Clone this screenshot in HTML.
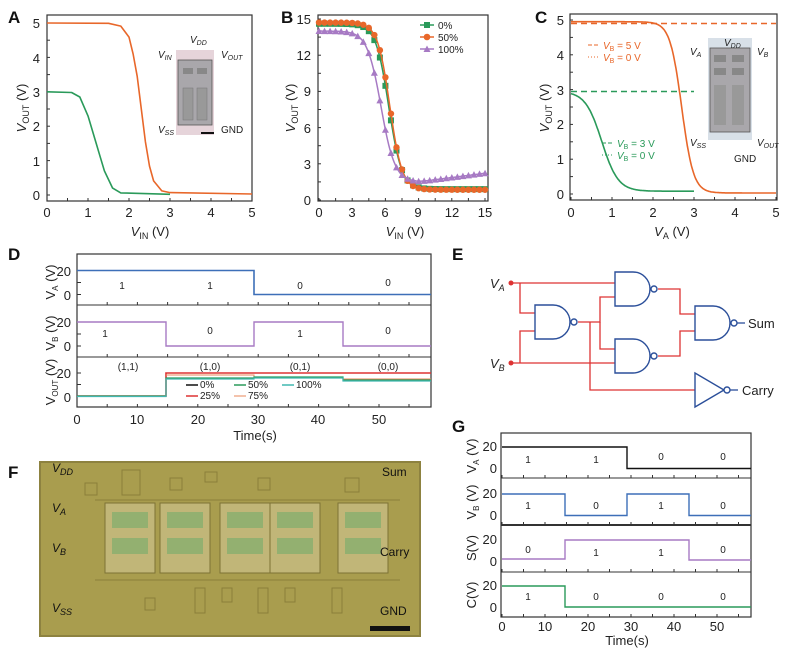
<!DOCTYPE html>
<html><head><meta charset="utf-8"><style>
body{margin:0;background:#fff}
svg{display:block;font-family:"Liberation Sans",Arial,sans-serif}
.t{font-size:13px;fill:#222}
.pl{font-size:17px;font-weight:bold;fill:#111}
.s{font-size:10px;fill:#222}
</style></head><body>
<svg id="g" width="788" height="659" viewBox="0 0 788 659" xmlns="http://www.w3.org/2000/svg">
<g id="ticks" stroke="#333" stroke-width="1"></g>
<text class="pl" x="8" y="23">A</text>
<text class="pl" x="281" y="23">B</text>
<text class="pl" x="535" y="23">C</text>
<text class="pl" x="8" y="260">D</text>
<text class="pl" x="452" y="260">E</text>
<text class="pl" x="8" y="478">F</text>
<text class="pl" x="452" y="432">G</text>

<!-- A -->
<rect x="47" y="15" width="205" height="186" fill="none" stroke="#333" stroke-width="1.2"/>
<g class="t" text-anchor="end">
<text x="40" y="28">5</text><text x="40" y="63">4</text><text x="40" y="97">3</text><text x="40" y="131">2</text><text x="40" y="166">1</text><text x="40" y="200">0</text></g>
<g class="t" text-anchor="middle">
<text x="47" y="217">0</text><text x="88" y="217">1</text><text x="129" y="217">2</text><text x="170" y="217">3</text><text x="211" y="217">4</text><text x="252" y="217">5</text>
<text x="150" y="236"><tspan font-style="italic">V</tspan><tspan font-size="9" dy="3">IN</tspan><tspan dy="-3"> (V)</tspan></text></g>
<text class="t" transform="translate(26,108) rotate(-90)" text-anchor="middle"><tspan font-style="italic">V</tspan><tspan font-size="9" dy="3">OUT</tspan><tspan dy="-3"> (V)</tspan></text>
<path d="M47,23 L108.5,23.3 L120.8,26.1 L129,37.1 L133.1,53.9 L137.2,76.3 L141.3,109 L145.4,141.7 L149.5,166.1 L153.6,180.9 L161.8,190.9 L170,192.6 L252,194" fill="none" stroke="#e8672a" stroke-width="1.6" stroke-linejoin="round"/>
<path d="M47,91.8 L71.6,92.5 L79.8,97 L88,115.9 L92.1,129.6 L96.2,143.4 L100.3,157.2 L104.4,170.9 L112.6,188.1 L120.8,192.9 L170,194.3" fill="none" stroke="#2a9a5a" stroke-width="1.6" stroke-linejoin="round"/>
<rect x="176" y="50" width="38" height="85" fill="#e6d4da"/>
<rect x="178" y="60" width="34" height="65" fill="#a9a7ab" stroke="#555" stroke-width="0.8"/>
<rect x="183" y="68" width="10" height="6" fill="#888"/><rect x="197" y="68" width="10" height="6" fill="#888"/>
<rect x="183" y="88" width="10" height="32" fill="#999" stroke="#777" stroke-width="0.5"/><rect x="197" y="88" width="10" height="32" fill="#999" stroke="#777" stroke-width="0.5"/>
<rect x="201" y="132" width="13" height="2" fill="#111"/>
<g class="s"><text x="190" y="43" font-style="italic">V<tspan font-size="7" dy="2">DD</tspan></text>
<text x="158" y="58" font-style="italic">V<tspan font-size="7" dy="2">IN</tspan></text>
<text x="221" y="58" font-style="italic">V<tspan font-size="7" dy="2">OUT</tspan></text>
<text x="158" y="133" font-style="italic">V<tspan font-size="7" dy="2">SS</tspan></text>
<text x="221" y="133">GND</text></g>

<!-- B -->
<rect x="318" y="15" width="170" height="186" fill="none" stroke="#333" stroke-width="1.2"/>
<g class="t" text-anchor="end">
<text x="311" y="24">15</text><text x="311" y="60">12</text><text x="311" y="96">9</text><text x="311" y="133">6</text><text x="311" y="169">3</text><text x="311" y="205">0</text></g>
<g class="t" text-anchor="middle">
<text x="319" y="217">0</text><text x="352" y="217">3</text><text x="385" y="217">6</text><text x="418" y="217">9</text><text x="452" y="217">12</text><text x="485" y="217">15</text>
<text x="405" y="236"><tspan font-style="italic">V</tspan><tspan font-size="9" dy="3">IN</tspan><tspan dy="-3"> (V)</tspan></text></g>
<text class="t" transform="translate(295,108) rotate(-90)" text-anchor="middle"><tspan font-style="italic">V</tspan><tspan font-size="9" dy="3">OUT</tspan><tspan dy="-3"> (V)</tspan></text>
<g id="bcurves"></g>
<g class="s" font-size="11">
<line x1="420" y1="25" x2="434" y2="25" stroke="#2a9a5a" stroke-width="1.5"/><rect x="424" y="22" width="6" height="6" fill="#2a9a5a"/><text x="438" y="29">0%</text>
<line x1="420" y1="37" x2="434" y2="37" stroke="#e8672a" stroke-width="1.5"/><circle cx="427" cy="37" r="3.3" fill="#e8672a"/><text x="438" y="41">50%</text>
<line x1="420" y1="49" x2="434" y2="49" stroke="#a77ac4" stroke-width="1.5"/><path d="M427,45.5 L430.5,52 L423.5,52Z" fill="#a77ac4"/><text x="438" y="53">100%</text></g>

<!-- C -->
<rect x="570" y="14" width="207" height="186" fill="none" stroke="#333" stroke-width="1.2"/>
<g class="t" text-anchor="end">
<text x="564" y="25">5</text><text x="564" y="60">4</text><text x="564" y="95">3</text><text x="564" y="129">2</text><text x="564" y="164">1</text><text x="564" y="199">0</text></g>
<g class="t" text-anchor="middle">
<text x="571" y="217">0</text><text x="612" y="217">1</text><text x="653" y="217">2</text><text x="694" y="217">3</text><text x="735" y="217">4</text><text x="776" y="217">5</text>
<text x="672" y="236"><tspan font-style="italic">V</tspan><tspan font-size="9" dy="3">A</tspan><tspan dy="-3"> (V)</tspan></text></g>
<text class="t" transform="translate(549,108) rotate(-90)" text-anchor="middle"><tspan font-style="italic">V</tspan><tspan font-size="9" dy="3">OUT</tspan><tspan dy="-3"> (V)</tspan></text>
<line x1="571" y1="23.5" x2="776" y2="23.5" stroke="#e8672a" stroke-width="1.4" stroke-dasharray="6,4"/>
<line x1="571" y1="91.5" x2="694" y2="91.5" stroke="#2a9a5a" stroke-width="1.4" stroke-dasharray="6,4"/>
<g id="ccurves"></g>
<rect x="708" y="38" width="44" height="102" fill="#d8e0e8"/>
<rect x="710" y="48" width="40" height="84" fill="#a9a7ab" stroke="#555" stroke-width="0.8"/>
<rect x="714" y="55" width="12" height="7" fill="#888"/><rect x="732" y="55" width="12" height="7" fill="#888"/>
<rect x="714" y="68" width="12" height="7" fill="#888"/><rect x="732" y="68" width="12" height="7" fill="#888"/>
<rect x="714" y="85" width="12" height="40" fill="#999"/><rect x="732" y="85" width="12" height="40" fill="#999"/>
<g class="s"><text x="724" y="46" font-style="italic">V<tspan font-size="7" dy="2">DD</tspan></text>
<text x="690" y="55" font-style="italic">V<tspan font-size="7" dy="2">A</tspan></text>
<text x="757" y="55" font-style="italic">V<tspan font-size="7" dy="2">B</tspan></text>
<text x="690" y="146" font-style="italic">V<tspan font-size="7" dy="2">SS</tspan></text>
<text x="757" y="146" font-style="italic">V<tspan font-size="7" dy="2">OUT</tspan></text>
<text x="734" y="162">GND</text></g>
<g font-size="10">
<line x1="588" y1="45" x2="600" y2="45" stroke="#e8672a" stroke-dasharray="4,2"/><text x="603" y="49" fill="#e8672a"><tspan font-style="italic">V</tspan><tspan font-size="7" dy="2">B</tspan><tspan dy="-2"> = 5 V</tspan></text>
<line x1="588" y1="57" x2="600" y2="57" stroke="#e8672a" stroke-dasharray="1,2"/><text x="603" y="61" fill="#e8672a"><tspan font-style="italic">V</tspan><tspan font-size="7" dy="2">B</tspan><tspan dy="-2"> = 0 V</tspan></text>
<line x1="602" y1="143" x2="614" y2="143" stroke="#2a9a5a" stroke-dasharray="4,2"/><text x="617" y="147" fill="#2a9a5a"><tspan font-style="italic">V</tspan><tspan font-size="7" dy="2">B</tspan><tspan dy="-2"> = 3 V</tspan></text>
<line x1="602" y1="155" x2="614" y2="155" stroke="#2a9a5a" stroke-dasharray="1,2"/><text x="617" y="159" fill="#2a9a5a"><tspan font-style="italic">V</tspan><tspan font-size="7" dy="2">B</tspan><tspan dy="-2"> = 0 V</tspan></text></g>

<!-- D -->
<rect x="77" y="254" width="354" height="153" fill="none" stroke="#333" stroke-width="1.2"/>
<line x1="77" y1="305" x2="431" y2="305" stroke="#333"/><line x1="77" y1="357" x2="431" y2="357" stroke="#333"/>
<g class="t" text-anchor="end">
<text x="71" y="276">20</text><text x="71" y="300">0</text>
<text x="71" y="327">20</text><text x="71" y="351">0</text>
<text x="71" y="378">20</text><text x="71" y="402">0</text></g>
<g class="t" font-size="11.5"><text transform="translate(55,282) rotate(-90)" text-anchor="middle">V<tspan font-size="8" dy="3">A</tspan><tspan dy="-3"> (V)</tspan></text>
<text transform="translate(55,333) rotate(-90)" text-anchor="middle">V<tspan font-size="8" dy="3">B</tspan><tspan dy="-3"> (V)</tspan></text>
<text transform="translate(55,382) rotate(-90)" text-anchor="middle">V<tspan font-size="8" dy="3">OUT</tspan><tspan dy="-3"> (V)</tspan></text></g>
<g class="t" text-anchor="middle">
<text x="77" y="424">0</text><text x="137" y="424">10</text><text x="198" y="424">20</text><text x="258" y="424">30</text><text x="318" y="424">40</text><text x="379" y="424">50</text>
<text x="255" y="440">Time(s)</text></g>
<path d="M77,270.5 L254,270.5 L254,294.5 L431,294.5" fill="none" stroke="#3d6fb8" stroke-width="1.6"/>
<path d="M77,322 L166,322 L166,346 L254,346 L254,322 L343,322 L343,346 L431,346" fill="none" stroke="#a77ac4" stroke-width="1.4"/>
<path d="M77,396 L166,396 L166,373 L431,373" fill="none" stroke="#d33" stroke-width="1.6"/>
<path d="M166,375 L254,375 L254,377 L343,377 L343,379 L431,379" fill="none" stroke="#e8875a" stroke-width="1"/>
<path d="M77,396 L166,396 L166,378 L254,378 L254,377 L343,377 L343,380 L431,380" fill="none" stroke="#2a9a5a" stroke-width="1.2"/>
<path d="M77,396.5 L166,396.5 L166,379 L254,379 L254,378 L343,378 L343,381 L431,381" fill="none" stroke="#40b8b0" stroke-width="1.2"/>
<g class="s" font-size="11" text-anchor="middle">
<text x="122" y="289">1</text><text x="210" y="289">1</text><text x="300" y="289">0</text><text x="388" y="286">0</text>
<text x="105" y="337">1</text><text x="210" y="334">0</text><text x="300" y="337">1</text><text x="388" y="334">0</text>
<text x="128" y="370">(1,1)</text><text x="210" y="370">(1,0)</text><text x="300" y="370">(0,1)</text><text x="388" y="370">(0,0)</text></g>
<g class="s" font-size="9">
<line x1="186" y1="385" x2="198" y2="385" stroke="#111" stroke-width="1.5"/><text x="200" y="388">0%</text>
<line x1="234" y1="385" x2="246" y2="385" stroke="#2a9a5a" stroke-width="1.5"/><text x="248" y="388">50%</text>
<line x1="282" y1="385" x2="294" y2="385" stroke="#40b8b0" stroke-width="1.5"/><text x="296" y="388">100%</text>
<line x1="186" y1="396" x2="198" y2="396" stroke="#d33" stroke-width="1.5"/><text x="200" y="399">25%</text>
<line x1="234" y1="396" x2="246" y2="396" stroke="#e8875a" stroke-width="1"/><text x="248" y="399">75%</text></g>

<!-- E circuit -->
<g fill="none" stroke="#d33" stroke-width="1.3">
<path d="M511,283 L615,283"/><path d="M520,283 L520,313 L535,313"/>
<path d="M511,363 L615,363"/><path d="M520,363 L520,331 L535,331"/>
<path d="M578,322 L600,322 L600,297 L615,297"/><path d="M600,322 L600,349 L615,349"/>
<path d="M590,322 L590,390 L695,390"/>
<path d="M658,289 L680,289 L680,314 L695,314"/><path d="M658,356 L680,356 L680,331 L695,331"/>
</g>
<circle cx="511" cy="283" r="2.5" fill="#d33"/><circle cx="511" cy="363" r="2.5" fill="#d33"/>
<g fill="#fff" stroke="#2b4f9a" stroke-width="1.4">
<path d="M535,305 L553,305 A17,17 0 0 1 553,339 L535,339Z"/><circle cx="574" cy="322" r="3"/>
<path d="M615,272 L633,272 A17,17 0 0 1 633,306 L615,306Z"/><circle cx="654" cy="289" r="3"/>
<path d="M615,339 L633,339 A17,17 0 0 1 633,373 L615,373Z"/><circle cx="654" cy="356" r="3"/>
<path d="M695,306 L713,306 A17,17 0 0 1 713,340 L695,340Z"/><circle cx="734" cy="323" r="3"/>
<path d="M695,373 L724,390 L695,407Z"/><circle cx="727" cy="390" r="3"/>
</g>
<line x1="737" y1="323" x2="745" y2="323" stroke="#2b4f9a" stroke-width="1.3"/>
<line x1="730" y1="390" x2="738" y2="390" stroke="#2b4f9a" stroke-width="1.3"/>
<g class="t"><text x="490" y="288" font-style="italic">V<tspan font-size="9" dy="3">A</tspan></text>
<text x="490" y="368" font-style="italic">V<tspan font-size="9" dy="3">B</tspan></text>
<text x="748" y="328">Sum</text><text x="742" y="395">Carry</text></g>

<!-- F photo -->
<rect x="40" y="462" width="380" height="174" fill="#a99d4e"/>
<rect x="40" y="462" width="380" height="174" fill="none" stroke="#8d8240" stroke-width="2"/>
<g fill="none" stroke="#8a7f3a" stroke-width="1">
<rect x="85" y="483" width="12" height="12"/><rect x="122" y="470" width="18" height="25"/><rect x="170" y="478" width="12" height="12"/><rect x="205" y="472" width="12" height="10"/><rect x="258" y="478" width="12" height="12"/><rect x="345" y="478" width="14" height="14"/>
<rect x="145" y="598" width="10" height="12"/><rect x="195" y="588" width="10" height="25"/><rect x="222" y="588" width="10" height="14"/><rect x="258" y="588" width="10" height="25"/><rect x="285" y="588" width="10" height="14"/><rect x="332" y="588" width="10" height="25"/>
<path d="M95,500 L400,500 M95,580 L400,580"/></g>
<g>
<rect x="105" y="503" width="50" height="70" fill="#c1b678" stroke="#7d7235"/>
<rect x="160" y="503" width="50" height="70" fill="#c1b678" stroke="#7d7235"/>
<rect x="220" y="503" width="50" height="70" fill="#c1b678" stroke="#7d7235"/>
<rect x="270" y="503" width="50" height="70" fill="#c1b678" stroke="#7d7235"/>
<rect x="338" y="503" width="50" height="70" fill="#c1b678" stroke="#7d7235"/>
</g>
<g fill="#8fb070" opacity="0.9">
<rect x="112" y="512" width="36" height="16"/><rect x="112" y="538" width="36" height="16"/>
<rect x="167" y="512" width="36" height="16"/><rect x="167" y="538" width="36" height="16"/>
<rect x="227" y="512" width="36" height="16"/><rect x="227" y="538" width="36" height="16"/>
<rect x="277" y="512" width="36" height="16"/><rect x="277" y="538" width="36" height="16"/>
<rect x="345" y="512" width="36" height="16"/><rect x="345" y="538" width="36" height="16"/></g>
<rect x="370" y="626" width="40" height="5" fill="#111"/>
<g font-size="12" fill="#111"><text x="52" y="472" font-style="italic">V<tspan font-size="9" dy="3">DD</tspan></text>
<text x="52" y="512" font-style="italic">V<tspan font-size="9" dy="3">A</tspan></text>
<text x="52" y="552" font-style="italic">V<tspan font-size="9" dy="3">B</tspan></text>
<text x="52" y="612" font-style="italic">V<tspan font-size="9" dy="3">SS</tspan></text>
<text x="382" y="476">Sum</text><text x="380" y="556">Carry</text><text x="380" y="615">GND</text></g>

<!-- G -->
<rect x="501" y="433" width="250" height="184" fill="none" stroke="#333" stroke-width="1.2"/>
<line x1="501" y1="478" x2="751" y2="478" stroke="#333"/><line x1="501" y1="525" x2="751" y2="525" stroke="#333" stroke-width="2"/><line x1="501" y1="572" x2="751" y2="572" stroke="#333"/>
<g class="t" text-anchor="end" font-size="12">
<text x="497" y="451">20</text><text x="497" y="473">0</text>
<text x="497" y="498">20</text><text x="497" y="520">0</text>
<text x="497" y="544">20</text><text x="497" y="566">0</text>
<text x="497" y="590">20</text><text x="497" y="612">0</text></g>
<g class="t" font-size="12" text-anchor="middle">
<text transform="translate(476,456) rotate(-90)">V<tspan font-size="8" dy="3">A</tspan><tspan dy="-3"> (V)</tspan></text>
<text transform="translate(476,502) rotate(-90)">V<tspan font-size="8" dy="3">B</tspan><tspan dy="-3"> (V)</tspan></text>
<text transform="translate(476,548) rotate(-90)">S(V)</text>
<text transform="translate(476,595) rotate(-90)">C(V)</text>
<text x="502" y="631">0</text><text x="545" y="631">10</text><text x="588" y="631">20</text><text x="631" y="631">30</text><text x="674" y="631">40</text><text x="717" y="631">50</text>
<text x="627" y="645">Time(s)</text></g>
<path d="M502,447 L627,447 L627,468.5 L751,468.5" fill="none" stroke="#111" stroke-width="1.4"/>
<path d="M502,494 L565,494 L565,515.5 L627,515.5 L627,494 L689,494 L689,515.5 L751,515.5" fill="none" stroke="#3d6fb8" stroke-width="1.4"/>
<path d="M502,559 L565,559 L565,540 L689,540 L689,560 L751,560" fill="none" stroke="#a77ac4" stroke-width="1.4"/>
<path d="M502,586 L565,586 L565,607 L751,607" fill="none" stroke="#2a9a5a" stroke-width="1.4"/>
<g class="s" font-size="11" text-anchor="middle">
<text x="528" y="463">1</text><text x="596" y="463">1</text><text x="661" y="460">0</text><text x="723" y="460">0</text>
<text x="528" y="509">1</text><text x="596" y="509">0</text><text x="661" y="509">1</text><text x="723" y="509">0</text>
<text x="528" y="553">0</text><text x="596" y="556">1</text><text x="661" y="556">1</text><text x="723" y="553">0</text>
<text x="528" y="600">1</text><text x="596" y="600">0</text><text x="661" y="600">0</text><text x="723" y="600">0</text></g>
</svg>
<script>
(function(){
var NS="http://www.w3.org/2000/svg";
function sig(x,hi,lo,c,k){return lo+(hi-lo)/(1+Math.exp((x-c)*k));}
function el(p,n,a){var e=document.createElementNS(NS,n);for(var k in a)e.setAttribute(k,a[k]);p.appendChild(e);return e;}
var T=document.getElementById('ticks');
function xt(xs,y,len){xs.forEach(function(x){el(T,'line',{x1:x,y1:y,x2:x,y2:y-len});});}
function yt(ys,x,len){ys.forEach(function(y){el(T,'line',{x1:x,y1:y,x2:x+len,y2:y});});}
function rng(a,b,n){var r=[];for(var i=0;i<=n;i++)r.push(a+(b-a)*i/n);return r;}
xt(rng(47,252,10),201,3);yt(rng(195,23,10),47,3);
xt(rng(319,485,10),201,3);yt(rng(200,19,10),318,3);
xt(rng(571,776,10),200,3);yt(rng(194,20,10),570,3);
var dx=rng(77,379,10);dx.push(409);
[305,357,407].forEach(function(y){xt(dx,y,3);});
[[270.5,294.5],[322,346],[373,396]].forEach(function(p){yt([p[0],(p[0]+p[1])/2,p[1]],77,4);});
var gx=rng(502,717,10);gx.push(738.5);
[478,525,572,617].forEach(function(y){xt(gx,y,3);});
var B=document.getElementById('bcurves');
var bx=function(v){return 319+11.07*v},by=function(V){return 200-12.07*V};
var series=[
 {col:'#2a9a5a',m:'s',f:function(x){return sig(x,14.6,0.9,6.3,1.7)}},
 {col:'#e8672a',m:'c',f:function(x){return sig(x,14.7,0.85,6.4,1.8)}},
 {col:'#a77ac4',m:'t',f:function(x){return sig(x,14.0,1.5,5.6,1.6)+(x>9?(x-9)*0.12:0)}}];
series.forEach(function(s){
 var d='';for(var x=0;x<=15.001;x+=0.1){d+=(d?'L':'M')+bx(x).toFixed(1)+','+by(s.f(x)).toFixed(1);}
 el(B,'path',{d:d,fill:'none',stroke:s.col,'stroke-width':1.5});
 for(var x=0;x<=15.001;x+=0.5){var X=bx(x),Y=by(s.f(x));
  if(s.m=='s')el(B,'rect',{x:X-3,y:Y-3,width:6,height:6,fill:s.col});
  else if(s.m=='c')el(B,'circle',{cx:X,cy:Y,r:3.2,fill:s.col});
  else el(B,'path',{d:'M'+X+','+(Y-3.5)+'L'+(X+3.5)+','+(Y+3)+'L'+(X-3.5)+','+(Y+3)+'Z',fill:s.col});}
});
var C=document.getElementById('ccurves');
var cx=function(v){return 571+41*v},cy=function(V){return 194-34.8*V};
var d='';for(var x=0;x<=5.001;x+=0.02){d+=(d?'L':'M')+cx(x).toFixed(1)+','+cy(sig(x,4.95,0.03,2.7,7)).toFixed(1);}
el(C,'path',{d:d,fill:'none',stroke:'#e8672a','stroke-width':1.6});
d='';for(var x=0;x<=3.001;x+=0.02){d+=(d?'L':'M')+cx(x).toFixed(1)+','+cy(sig(x,2.95,0.08,0.75,5)).toFixed(1);}
el(C,'path',{d:d,fill:'none',stroke:'#2a9a5a','stroke-width':1.6});
})();
</script>
</body></html>
